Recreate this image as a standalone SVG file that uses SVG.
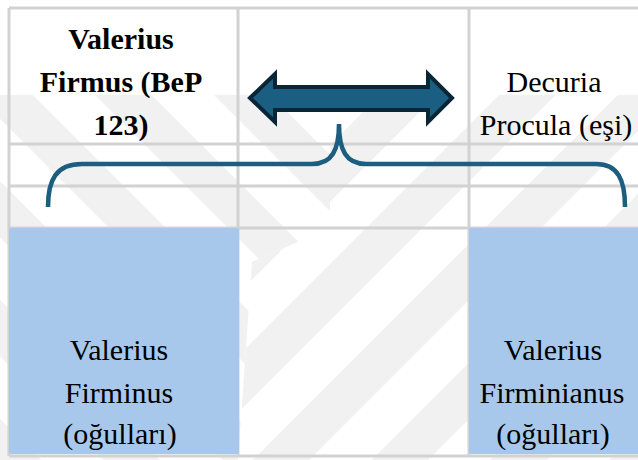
<svg xmlns="http://www.w3.org/2000/svg" width="638" height="460" viewBox="0 0 638 460">
  <style>
    .grid { stroke: #D2D2D2; stroke-width: 3; fill: none; }
    .cellblue { fill: #A8C8EB; }
    text { font-size: 30px; fill: #000; text-anchor: middle; }
    .bold { font-weight: bold; }
    .brace { fill: none; stroke: #1B5E80; stroke-width: 4.5; stroke-linecap: butt; }
    .arrow { fill: #1A5F81; stroke: #0A2536; stroke-width: 4; stroke-linejoin: miter; }
  </style>
  <defs>
    <pattern id="wmL" width="84" height="84" patternUnits="userSpaceOnUse" patternTransform="rotate(-45)">
      <rect width="40" height="84" fill="#F1F1F1"/>
    </pattern>
    <pattern id="wmR" width="84" height="84" patternUnits="userSpaceOnUse" patternTransform="rotate(45)">
      <rect width="40" height="84" fill="#F1F1F1"/>
    </pattern>
  </defs>

  <rect width="638" height="460" fill="#FFFFFF"/>

  <g id="watermark">
    <polygon points="0,95 330,95 330,228 252,262 238,460 0,460" fill="url(#wmL)"/>
    <polygon points="330,95 638,95 638,460 238,460 252,262 330,228" fill="url(#wmR)"/>
  </g>

  <g id="grid">
    <line class="grid" x1="9" y1="8" x2="638" y2="8"/>
    <line class="grid" x1="9" y1="8" x2="9" y2="456"/>
    <line class="grid" x1="238" y1="8" x2="238" y2="456"/>
    <line class="grid" x1="469" y1="8" x2="469" y2="456"/>
    <line class="grid" x1="9" y1="144" x2="638" y2="144"/>
    <line class="grid" x1="9" y1="186" x2="638" y2="186"/>
    <line class="grid" x1="9" y1="228" x2="638" y2="228"/>
    <line class="grid" x1="9" y1="456" x2="638" y2="456"/>
  </g>

  <g font-family="Liberation Serif, Times New Roman, serif">
  <g id="node-valerius-firmus">
    <text class="bold" x="121" y="49">Valerius</text>
    <text class="bold" x="121" y="92">Firmus (BeP</text>
    <text class="bold" x="121" y="135">123)</text>
  </g>

  <g id="node-decuria-procula">
    <text x="554" y="92">Decuria</text>
    <text x="556" y="135">Procula (eşi)</text>
  </g>

  <g id="node-valerius-firminus">
    <rect class="cellblue" x="9" y="228" width="230" height="226" rx="2"/>
    <text x="119" y="360">Valerius</text>
    <text x="119" y="403">Firminus</text>
    <text x="120" y="444">(oğulları)</text>
  </g>

  <g id="node-valerius-firminianus">
    <rect class="cellblue" x="469" y="228" width="172" height="226" rx="2"/>
    <text x="553" y="360">Valerius</text>
    <text x="552" y="403">Firminianus</text>
    <text x="553" y="444">(oğulları)</text>
  </g>
  </g>

  <g id="connectors">
    <polygon id="marriage-arrow" class="arrow" points="250,98 275,74 275,87 428,87 428,74 452,98 428,122 428,110 275,110 275,122"/>
    <path id="children-brace" class="brace" d="M48,207 C48,180 56,164 82,164 L312,164 C332,164 339,150 339,124 C339,150 346,164 366,164 L596,164 C618,164 625,180 625,207"/>
  </g>
</svg>
